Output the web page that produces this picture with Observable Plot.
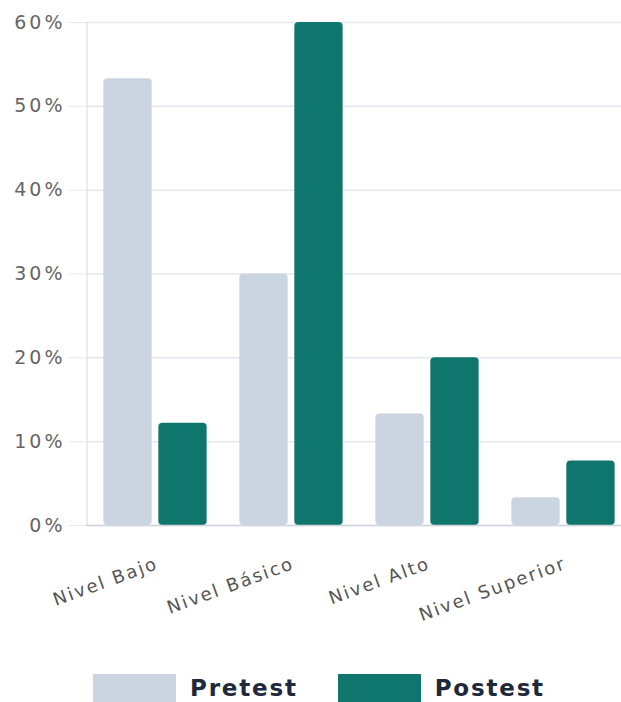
<!DOCTYPE html>
<html>
<head>
<meta charset="utf-8">
<script src="https://cdn.jsdelivr.net/npm/d3@7"></script>
<script src="https://cdn.jsdelivr.net/npm/@observablehq/plot@0.6"></script>
<style>
  html, body { margin: 0; padding: 0; background: #fff; overflow: hidden; }
  #chart svg { display: block; }
  .legend { display: flex; align-items: center; height: 28px; margin-left: 93px;
    font-family: "DejaVu Sans", sans-serif; font-weight: bold; font-size: 23px;
    color: #1e293b; letter-spacing: 1.8px; }
  .legend .sw { width: 83px; height: 28px; margin-right: 14px; }
  .legend .item { display: flex; align-items: center; margin-right: 40px; }
</style>
</head>
<body>
<div id="chart"></div>
<div class="legend" id="legend"></div>
<script>
// Niveles de desempeño, porcentaje de estudiantes en cada nivel
const categories = ["Nivel Bajo", "Nivel Básico", "Nivel Alto", "Nivel Superior"];
const series = ["Pretest", "Postest"];
const pretest = [53.3, 30.0, 13.3, 3.3];
const postest = [12.2, 60.0, 20.0, 7.7];
const yTicks = [0, 10, 20, 30, 40, 50, 60];
const colors = ["#cbd5e1", "#0f766e"];

const rows = categories.flatMap((c, i) => [
  {nivel: c, grupo: series[0], valor: pretest[i]},
  {nivel: c, grupo: series[1], valor: postest[i]}
]);

const font = "DejaVu Sans, sans-serif";

const chart = Plot.plot({
  width: 621,
  height: 674,
  marginTop: 22,
  marginBottom: 149,
  marginLeft: 86,
  marginRight: -12,
  style: {fontFamily: font, fontSize: "16px", color: "#666"},
  x: {domain: categories, range: [86, 632.7], padding: 0, label: null},
  y: {domain: [0, 60], label: null},
  color: {domain: series, range: colors},
  marks: [
    Plot.ruleY(yTicks, {stroke: "#e2e8f0", strokeWidth: 1.5}),
    Plot.ruleX([0], {x: () => categories[0], y1: 0, y2: 60, stroke: "#e2e8f0", strokeWidth: 1.5, dx: -68.35}),
    Plot.barY(rows.filter(d => d.grupo === series[0]), {
      x: "nivel", y: "valor", fill: "grupo", rx: 4,
      insetLeft: 43.85, insetRight: 43.85, dx: -27.5
    }),
    Plot.barY(rows.filter(d => d.grupo === series[1]), {
      x: "nivel", y: "valor", fill: "grupo", rx: 4,
      insetLeft: 43.85, insetRight: 43.85, dx: 27.5
    }),
    Plot.ruleY([0], {stroke: "#d1d5db", strokeWidth: 1.5}),
    Plot.axisY({
      ticks: yTicks, tickFormat: d => d + "%", tickSize: 17, tickPadding: 4,
      stroke: "#e2e8f0", fontSize: 19, fill: "#666"
    }),
    Plot.axisX({
      tickSize: 0, tickPadding: 38, tickRotate: -20, fontSize: 18, fill: "#555"
    })
  ]
});
document.getElementById("chart").append(chart);

// wider tracking on the tick labels
d3.select(chart).selectAll('g[aria-label="y-axis tick label"] text').attr("letter-spacing", "3px");
d3.select(chart).selectAll('g[aria-label="x-axis tick label"] text').attr("letter-spacing", "2px").attr("dx", 2);

const legend = document.getElementById("legend");
series.forEach((s, i) => {
  const item = document.createElement("div");
  item.className = "item";
  const sw = document.createElement("div");
  sw.className = "sw";
  sw.style.background = colors[i];
  const label = document.createElement("span");
  label.textContent = s;
  item.append(sw, label);
  legend.append(item);
});
</script>
</body>
</html>
